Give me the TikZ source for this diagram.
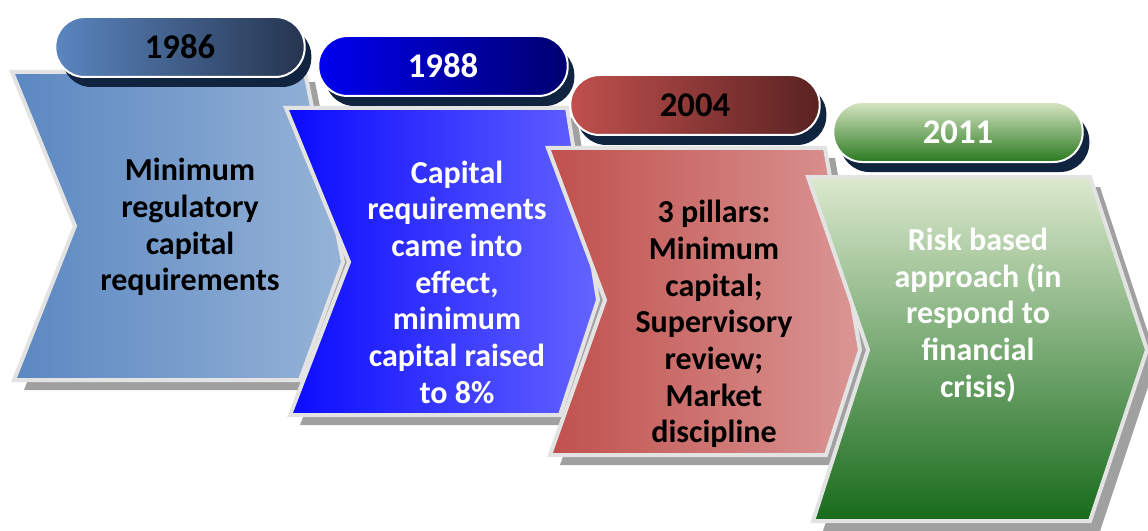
\documentclass[tikz,border=0pt]{standalone}
\usepackage{fontspec}
\setmainfont{Carlito}
\usetikzlibrary{shadows}
\definecolor{oneleft}{HTML}{5B87C1}
\definecolor{oneright}{HTML}{95B3D7}
\definecolor{twoleft}{HTML}{0A0AFF}
\definecolor{tworight}{HTML}{6464FF}
\definecolor{threeleft}{HTML}{C0504D}
\definecolor{threeright}{HTML}{DA9694}
\definecolor{fourtop}{HTML}{DCE9CE}
\definecolor{fourbottom}{HTML}{176B1B}
\definecolor{ponel}{HTML}{5A86C0}
\definecolor{poner}{HTML}{26344F}
\definecolor{ptwol}{HTML}{0000F0}
\definecolor{ptwor}{HTML}{000070}
\definecolor{pthreel}{HTML}{C0504D}
\definecolor{pthreer}{HTML}{5A2222}
\definecolor{pfourt}{HTML}{D7E5C2}
\definecolor{pfourb}{HTML}{2A7A20}
\definecolor{pillshadow}{HTML}{10233F}
\definecolor{chevline}{HTML}{E3E3E3}
\definecolor{chevshadow}{HTML}{A0A0A0}
\begin{document}
\begin{tikzpicture}[x=0.75pt,y=-0.75pt,
    chev/.style={draw=chevline,line width=3pt,line join=miter,
        drop shadow={shadow xshift=7.5pt,shadow yshift=-7.5pt,fill=chevshadow,opacity=1}},
    pill/.style={draw=white,line width=1.5pt,rounded corners=22pt,
        minimum width=187pt,minimum height=45pt,inner sep=0pt,
        font=\bfseries\fontsize{26}{30}\selectfont,
        drop shadow={shadow xshift=5pt,shadow yshift=-7.5pt,fill=pillshadow,opacity=1}},
    txt/.style={align=center,font=\bfseries\fontsize{24}{27.5}\selectfont}]
    \useasboundingbox (0,0) rectangle (1148,531);
    \fill[white] (0,0) rectangle (1148,531);

    \draw[chev,left color=oneleft,right color=oneright]
        (12,72)--(305,72)--(343,262)--(300,380)--(14,380)--(75,226)--cycle;
    \node[pill,left color=ponel,right color=poner,text=black] (y1986) at (180,47) {1986};
    \node[txt,text=black] (t1986) at (190,227) {Minimum\\regulatory\\capital\\requirements};

    \draw[chev,left color=twoleft,right color=tworight]
        (286,108)--(567,108)--(598,300)--(560,415)--(290,415)--(349,262)--cycle;
    \node[pill,left color=ptwol,right color=ptwor,text=white] (y1988) at (443,66) {1988};
    \node[txt,text=white] (t1988) at (457,282) {Capital\\requirements\\came into\\effect,\\minimum\\capital raised\\to 8\%};

    \draw[chev,left color=threeleft,right color=threeright]
        (548,148)--(825,148)--(860,350)--(826,455)--(550,455)--(605,300)--cycle;
    \node[pill,left color=pthreel,right color=pthreer,text=black] (y2004) at (695,105) {2004};
    \node[txt,text=black] (t2004) at (714,324) {3 pillars:\\Minimum\\capital;\\Supervisory\\review;\\Market\\discipline};

    \draw[chev,top color=fourtop,bottom color=fourbottom]
        (808,177)--(1090,177)--(1147,350)--(1090,521)--(813,521)--(868,350)--cycle;
    \node[pill,top color=pfourt,bottom color=pfourb,text=white] (y2011) at (958,132) {2011};
    \node[txt,text=white] (t2011) at (978,315) {Risk based\\approach (in\\respond to\\financial\\crisis)};
\end{tikzpicture}
\end{document}
